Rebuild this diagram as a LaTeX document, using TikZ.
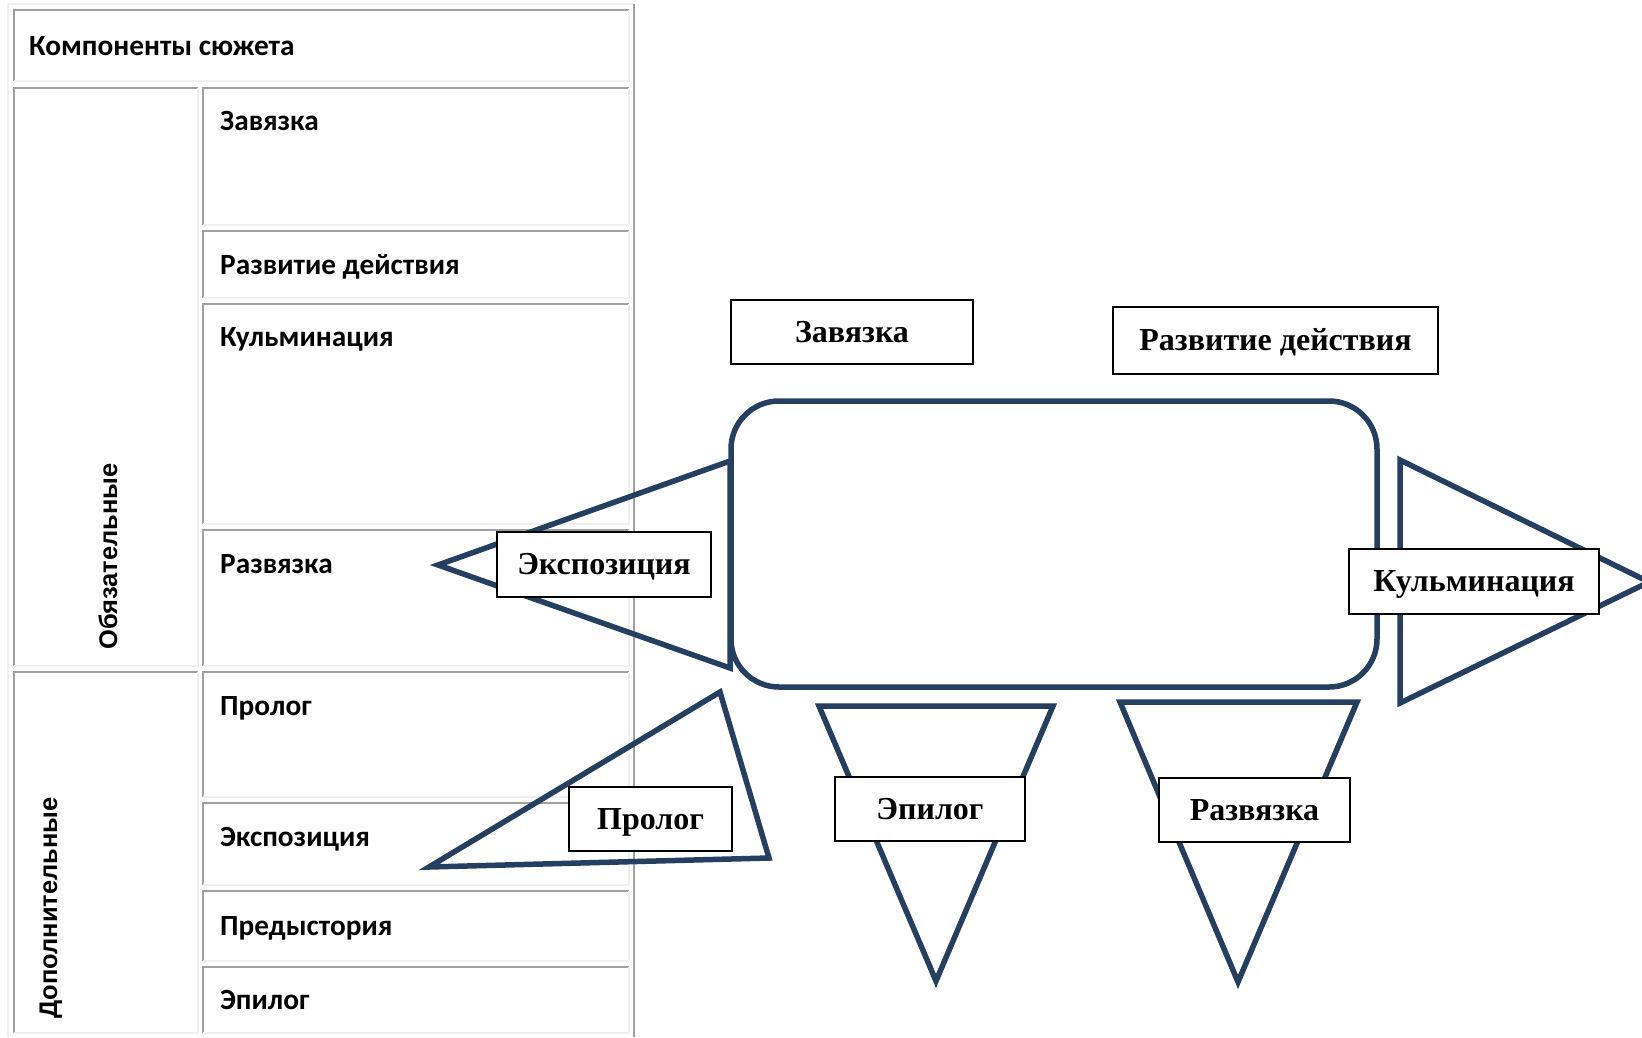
\documentclass[tikz,border=0pt]{standalone}
\usepackage{fontspec}
\setmainfont{Liberation Serif}
\newfontfamily\cellfont{Carlito}
\newfontfamily\sidefont{Liberation Sans}
\definecolor{plotblue}{RGB}{36,63,96}
\definecolor{celldark}{RGB}{160,160,160}
\definecolor{celllight}{RGB}{240,240,240}

\begin{document}
\begin{tikzpicture}[x=1pt, y=-1pt,
    celltext/.style={anchor=base west, inner sep=0pt, font=\cellfont\bfseries\fontsize{29.3}{35}\selectfont},
    sidetext/.style={anchor=base west, rotate=90, inner sep=0pt, font=\sidefont\bfseries\fontsize{25.5}{30}\selectfont},
    shapeline/.style={draw=plotblue, line width=5.5pt},
    tagbox/.style={draw=black, line width=1.5pt, fill=white, inner sep=0pt,
        text height=23.5pt, text depth=3.5pt, font=\bfseries\fontsize{32}{38}\selectfont}]
    \useasboundingbox (0,0) rectangle (1642,1037);

    % table frame
    \draw[celllight, line width=2pt] (8,1037) -- (8,4) -- (634,4);
    \draw[celldark, line width=2.5pt] (634,4) -- (634,1037);
    \foreach \xa/\ya/\xb/\yb in {14/10/629/81, 14/88/198/666, 14/672/198/1033,
        203/88/629/225, 203/231/629/298, 203/304/629/524, 203/530/629/666,
        203/672/629/797, 203/803/629/885, 203/891/629/961, 203/967/629/1033} {
        \draw[celldark, line width=2pt] (\xa,\yb) -- (\xa,\ya) -- (\xb,\ya);
        \draw[celllight, line width=2pt] (\xb,\ya) -- (\xb,\yb) -- (\xa,\yb);
    }

    \node[celltext] (title) at (29,55) {Компоненты сюжета};
    \node[sidetext] (must) at (117,650) {Обязательные};
    \node[sidetext] (extra) at (57,1019) {Дополнительные};
    \node[celltext] (t1) at (220,130) {Завязка};
    \node[celltext] (t2) at (220,274) {Развитие действия};
    \node[celltext] (t3) at (220,346) {Кульминация};
    \node[celltext] (t4) at (220,573) {Развязка};
    \node[celltext] (t5) at (220,715) {Пролог};
    \node[celltext] (t6) at (220,846) {Экспозиция};
    \node[celltext] (t7) at (220,935) {Предыстория};
    \node[celltext] (t8) at (220,1009) {Эпилог};

    % scheme
    \draw[shapeline, rounded corners=48pt] (731,401) rectangle (1377,687);
    \draw[shapeline] (730,461) -- (438,565) -- (730,668) -- cycle;
    \draw[shapeline] (1400,460) -- (1649,582) -- (1400,703) -- cycle;
    \draw[shapeline] (720,692) -- (769,858) -- (429,867) -- cycle;
    \draw[shapeline] (819,706) -- (1053,706) -- (936,981) -- cycle;
    \draw[shapeline] (1120,702) -- (1357,702) -- (1238,982) -- cycle;

    \node[tagbox, minimum width=242pt, minimum height=64pt] (zav) at (852,332) {Завязка};
    \node[tagbox, minimum width=325pt, minimum height=67pt] (razv) at (1275.5,340.5) {Развитие действия};
    \node[tagbox, minimum width=250pt, minimum height=65pt] (kulm) at (1474,581.5) {Кульминация};
    \node[tagbox, minimum width=214pt, minimum height=65pt] (expo) at (604,564.5) {Экспозиция};
    \node[tagbox, minimum width=163pt, minimum height=64pt] (prol) at (650.5,819) {Пролог};
    \node[tagbox, minimum width=190pt, minimum height=64pt] (epil) at (930,809) {Эпилог};
    \node[tagbox, minimum width=191pt, minimum height=64pt] (razvz) at (1254.5,810) {Развязка};
\end{tikzpicture}
\end{document}
